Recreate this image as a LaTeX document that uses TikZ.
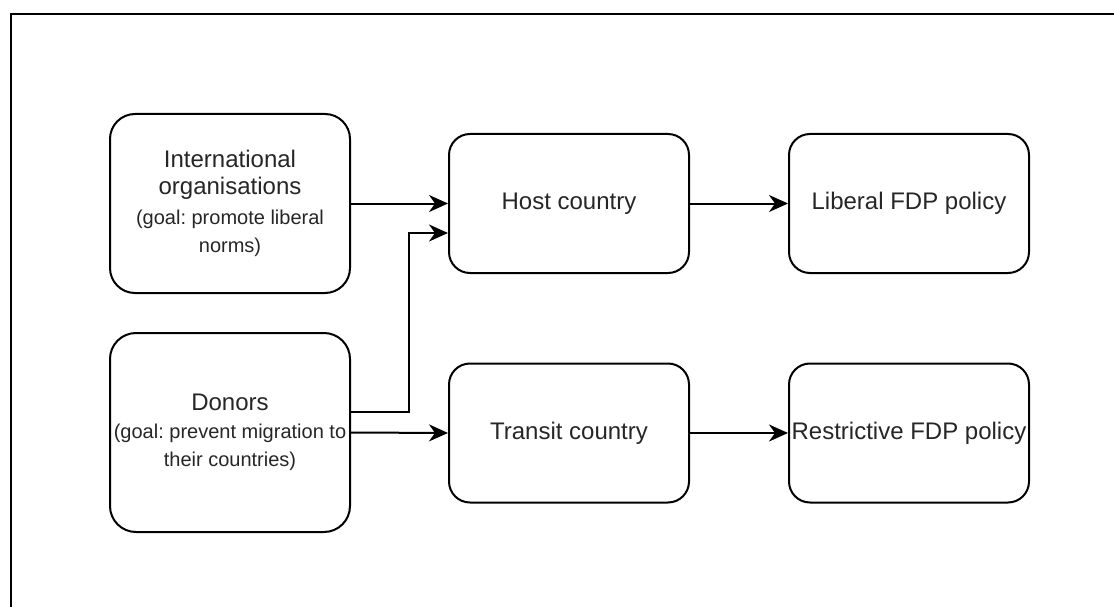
\documentclass[tikz,border=0pt]{standalone}
\usepackage{fontspec}
\setmainfont{Liberation Sans}
\usetikzlibrary{arrows.meta}
\frenchspacing
\newcommand\fbig{\fontsize{24}{27}\selectfont}
\newcommand\fsmall{\fontsize{20}{27}\selectfont}
\definecolor{ink}{RGB}{38,38,38}
\begin{document}
\begin{tikzpicture}[x=1pt,y=-1pt,
  box/.style={draw=black, line width=2pt, rounded corners=21pt,
    minimum width=240pt, minimum height=139pt, inner sep=0pt,
    align=center, text=ink, font=\fbig},
  arr/.style={draw=black, line width=2pt,
    -{Stealth[length=19pt,width=17pt,inset=6pt]}},
  frame/.style={draw=black, line width=2pt}]
\useasboundingbox (0,0) rectangle (1114,607);
\clip (0,0) rectangle (1114,607);

% outer border (runs past the right and bottom edges)
\draw[frame] (10.5,640) -- (10.5,14.5) -- (1140,14.5);

% actors
\node[box, minimum height=179pt, rounded corners=25pt] (io) at (230,203.5)
  {International\\organisations\\[3pt]{\fsmall (goal: promote liberal}\\[1pt]{\fsmall norms)}};
\node[box, minimum height=199pt, rounded corners=26pt] (donors) at (230,432.5)
  {Donors\\[1pt]{\fsmall (goal: prevent migration to}\\[1pt]{\fsmall their countries)}};

% countries
\node[box] (host) at (569,203.5) {Host country};
\node[box] (transit) at (569,433) {Transit country};

% policy outcomes
\node[box] (liberal) at (909,203.5) {Liberal FDP policy};
\node[box] (restrictive) at (909,433) {Restrictive FDP policy};

% influences
\draw[arr] (io.east) -- (host.west);
\draw[arr] ([yshift=20.5pt]donors.east) -- ++(58,0) |- ([yshift=-29.5pt]host.west);
\draw[arr] (donors.east) -- (transit.west);
\draw[arr] (host.east) -- (liberal.west);
\draw[arr] (transit.east) -- (restrictive.west);
\end{tikzpicture}
\end{document}
